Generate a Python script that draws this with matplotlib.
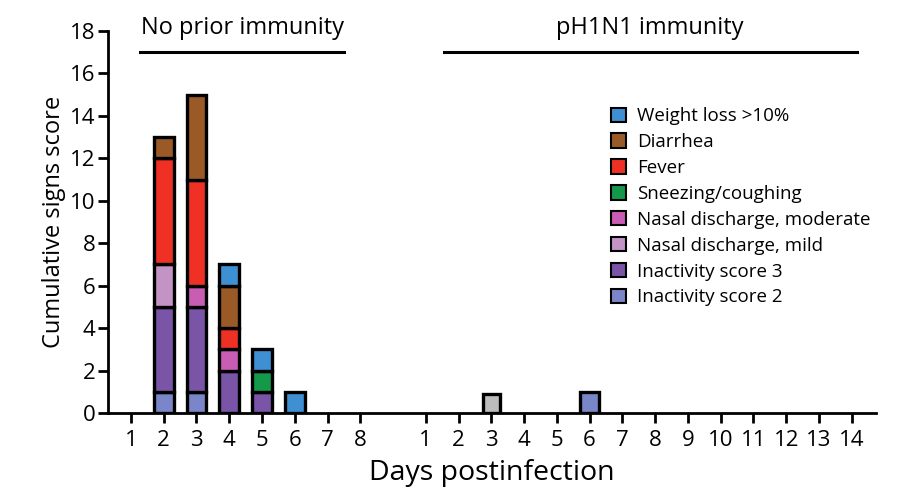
import matplotlib.pyplot as plt
import numpy as np

plt.rcParams['font.family'] = ['Open Sans', 'DejaVu Sans']

# tick labels for the two groups of animals
days_no_prior = [1, 2, 3, 4, 5, 6, 7, 8]
days_ph1n1 = list(range(1, 15))

# cumulative sign scores per day, no prior immunity group (days 1-8)
inactivity_2 = [0, 1, 1, 0, 0, 0, 0, 0]
inactivity_3 = [0, 4, 4, 2, 1, 0, 0, 0]
nasal_mild = [0, 2, 0, 0, 0, 0, 0, 0]
nasal_moderate = [0, 0, 1, 1, 0, 0, 0, 0]
sneezing = [0, 0, 0, 0, 1, 0, 0, 0]
fever = [0, 5, 5, 1, 0, 0, 0, 0]
diarrhea = [0, 1, 4, 2, 0, 0, 0, 0]
weight_loss = [0, 0, 0, 1, 1, 1, 0, 0]

# pH1N1 immunity group (days 1-14)
ph1n1_inactivity_2 = [0, 0, 0, 0, 0, 1, 0, 0, 0, 0, 0, 0, 0, 0]
ph1n1_other = [0, 0, 0.9, 0, 0, 0, 0, 0, 0, 0, 0, 0, 0, 0]

labels = ["Inactivity score 2", "Inactivity score 3", "Nasal discharge, mild",
          "Nasal discharge, moderate", "Sneezing/coughing", "Fever",
          "Diarrhea", "Weight loss >10%"]
colors = ["#7b86c9", "#7a54a6", "#c393c6", "#c85db3", "#14994a",
          "#ee3124", "#9a5a27", "#3f8fd3"]
series = [inactivity_2, inactivity_3, nasal_mild, nasal_moderate,
          sneezing, fever, diarrhea, weight_loss]

fig = plt.figure(figsize=(9, 4.99), dpi=100)
ax = fig.add_axes([0.12, 0.1723, 0.8533, 0.7655])

x1 = np.array(days_no_prior)
x2 = np.array(days_ph1n1) + 9  # gap of one slot between groups

bw = 0.6
lw = 2.4
bottom = np.zeros(len(x1))
handles = []
for vals, c, lab in zip(series, colors, labels):
    vals = np.array(vals, dtype=float)
    mask = vals > 0
    h = ax.bar(x1[mask], vals[mask], bw, bottom=bottom[mask], color=c,
               edgecolor='black', linewidth=lw, label=lab, zorder=3)
    handles.append(h)
    bottom += vals

v = np.array(ph1n1_inactivity_2, dtype=float)
m = v > 0
ax.bar(x2[m], v[m], bw, color=colors[0], edgecolor='black', linewidth=lw, zorder=3)
v = np.array(ph1n1_other, dtype=float)
m = v > 0
ax.bar(x2[m], v[m], bw * 0.85, color="#bdbdbd", edgecolor='black', linewidth=lw, zorder=3)

ax.set_xlim(0.3, 23.74)
ax.set_ylim(0, 18)
ax.set_yticks(range(0, 19, 2))
ax.set_xticks(list(x1) + list(x2))
ax.set_xticklabels([str(d) for d in days_no_prior] + [str(d) for d in days_ph1n1])

for s in ['top', 'right']:
    ax.spines[s].set_visible(False)
for s in ['left', 'bottom']:
    ax.spines[s].set_linewidth(2)
ax.tick_params(axis='both', width=2, length=7, labelsize=16)
ax.tick_params(axis='x', pad=5)
ax.tick_params(axis='y', pad=2)

ax.set_ylabel("Cumulative signs score", fontsize=17, labelpad=3)
ax.set_xlabel("Days postinfection", fontsize=20.5, labelpad=6)

# group brackets
ax.plot([1.28, 7.5], [17, 17], color='black', lw=2.2, clip_on=False)
ax.plot([10.57, 23.15], [17, 17], color='black', lw=2.2, clip_on=False)
ax.text(4.4, 18.15, "No prior immunity", ha='center', va='center', fontsize=17)
ax.text(16.85, 18.15, "pH1N1 immunity", ha='center', va='center', fontsize=17)

leg = ax.legend(handles=handles[::-1], loc='upper left', bbox_to_anchor=(0.645, 0.82),
                frameon=False, fontsize=13.5, handlelength=0.8, handleheight=0.8,
                labelspacing=0.42, handletextpad=0.6, borderaxespad=0)
for p in leg.get_patches():
    p.set_linewidth(1.5)

fig.savefig("out.png", dpi=100)
